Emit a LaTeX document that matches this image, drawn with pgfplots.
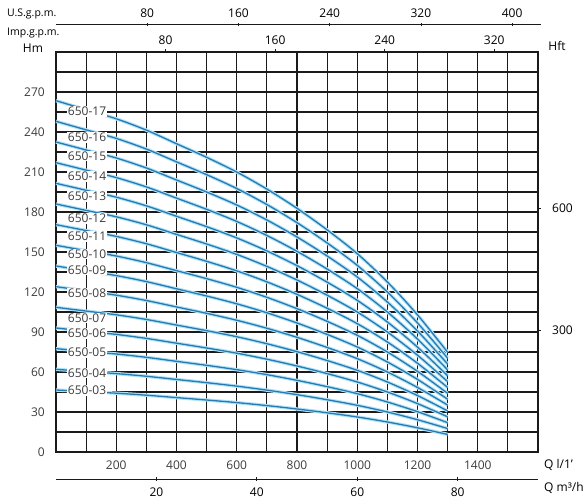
\documentclass[border=0pt]{standalone}
\usepackage{pgfplots}
\usepackage{pgfplotstable}
\pgfplotsset{compat=1.18}
\usepackage{fontspec}
\setmainfont{Open Sans}
\definecolor{txt}{HTML}{3C3C3C}
\definecolor{gridc}{HTML}{1A1A1A}
\definecolor{curve}{HTML}{2A7AB2}
\definecolor{halo}{HTML}{B0E4F8}

\pgfplotstableread{
Q n03 n04 n05 n06 n07 n08 n09 n10 n11 n12 n13 n14 n15 n16 n17
0 46.5 62.0 77.5 93.0 108.5 124.0 139.5 155.0 170.5 186.0 201.5 217.0 232.5 248.0 263.5
100 45.3 60.4 75.5 90.6 105.7 120.8 135.9 151.0 166.1 181.2 196.3 211.4 226.5 241.6 256.7
200 44.1 58.8 73.5 88.2 102.9 117.6 132.3 147.0 161.7 176.4 191.1 205.8 220.5 235.2 249.9
300 42.6 56.8 71.0 85.2 99.4 113.6 127.8 142.0 156.2 170.4 184.6 198.8 213.0 227.2 241.4
400 40.8 54.4 68.0 81.6 95.2 108.8 122.4 136.0 149.6 163.2 176.8 190.4 204.0 217.6 231.2
500 39.0 52.0 65.0 78.0 91.0 104.0 117.0 130.0 143.0 156.0 169.0 182.0 195.0 208.0 221.0
600 37.05 49.4 61.75 74.1 86.45 98.8 111.15 123.5 135.85 148.2 160.55 172.9 185.25 197.6 209.95
700 34.8 46.4 58.0 69.6 81.2 92.8 104.4 116.0 127.6 139.2 150.8 162.4 174.0 185.6 197.2
800 32.25 43.0 53.75 64.5 75.25 86.0 96.75 107.5 118.25 129.0 139.75 150.5 161.25 172.0 182.75
900 29.4 39.2 49.0 58.8 68.6 78.4 88.2 98.0 107.8 117.6 127.4 137.2 147.0 156.8 166.6
1000 26.25 35.0 43.75 52.5 61.25 70.0 78.75 87.5 96.25 105.0 113.75 122.5 131.25 140.0 148.75
1100 22.5 30.0 37.5 45.0 52.5 60.0 67.5 75.0 82.5 90.0 97.5 105.0 112.5 120.0 127.5
1200 18.15 24.2 30.25 36.3 42.35 48.4 54.45 60.5 66.55 72.6 78.65 84.7 90.75 96.8 102.85
1300 13.2 17.6 22.0 26.4 30.8 35.2 39.6 44.0 48.4 52.8 57.2 61.6 66.0 70.4 74.8
}\pumpdata

\begin{document}
\fontsize{12bp}{14bp}\selectfont
\begin{tikzpicture}
\useasboundingbox (-56bp,-49bp) rectangle (527bp,452bp);
\begin{axis}[
  at={(0,0)}, anchor=south west,
  scale only axis, width=482bp, height=400bp,
  xmin=0, xmax=1600, ymin=0, ymax=300,
  clip=false,
  xtick={200,400,...,1400},
  xticklabels={200,400,600,800,1000,1200,1400},
  minor xtick={0,100,...,1600},
  ytick={0,30,...,270},
  yticklabels={0,30,60,90,120,150,180,210,240,270},
  minor ytick={0,15,...,300},
  grid=both,
  major grid style={gridc, line width=1.2bp},
  minor grid style={gridc, line width=1.2bp},
  axis line style={gridc, line width=1.4bp},
  major tick length=0pt, minor tick length=0pt,
  tick label style={text=txt, font=\fontsize{12bp}{14bp}\selectfont},
  xticklabel style={anchor=center, yshift=-13bp},
  yticklabel style={anchor=east, xshift=-7bp},
  every node/.append style={text=txt},
]
\pgfplotsinvokeforeach{03,04,05,06,07,08,09,10,11,12,13,14,15,16,17}{
  \addplot[halo, line width=3.4bp, smooth] table[x=Q, y=n#1] {\pumpdata};
}
\pgfplotsinvokeforeach{03,04,05,06,07,08,09,10,11,12,13,14,15,16,17}{
  \addplot[curve, line width=1.3bp, smooth] table[x=Q, y=n#1] {\pumpdata};
}
% curve labels
\begin{scope}[every node/.style={fill=white, inner sep=0.8bp, text=txt, font=\fontsize{12bp}{14bp}\selectfont}]
\node at (axis cs:103,255.5) {650-17};
\node at (axis cs:103,236) {650-16};
\node at (axis cs:103,222) {650-15};
\node at (axis cs:103,206.5) {650-14};
\node at (axis cs:103,191.5) {650-13};
\node at (axis cs:103,175) {650-12};
\node at (axis cs:103,161.7) {650-11};
\node at (axis cs:103,148.5) {650-10};
\node at (axis cs:103,136.3) {650-09};
\node at (axis cs:103,119) {650-08};
\node at (axis cs:103,100.7) {650-07};
\node at (axis cs:103,89) {650-06};
\node at (axis cs:103,74.6) {650-05};
\node at (axis cs:103,59.3) {650-04};
\node at (axis cs:103,46) {650-03};
\end{scope}
% left / right titles
\node at ([xshift=-23bp,yshift=4bp]axis cs:0,300) {Hm};
\node at ([xshift=19bp,yshift=6bp]axis cs:1600,300) {Hft};
% Hft ticks
\draw[gridc, line width=0.8bp] (axis cs:1600,91.44) -- ++(3bp,0);
\draw[gridc, line width=0.8bp] (axis cs:1600,182.88) -- ++(3bp,0);
\node[anchor=west] at ([xshift=10bp]axis cs:1600,91.44) {300};
\node[anchor=west] at ([xshift=10bp]axis cs:1600,182.88) {600};
% Imp. g.p.m. scale
\node[anchor=west, font=\fontsize{10.5bp}{12bp}\selectfont] at ([xshift=-53bp,yshift=19bp]axis cs:0,300) {Imp.g.p.m.};
\draw[gridc, line width=0.8bp] (axis cs:363.7,300) -- ++(0,3bp);
\draw[gridc, line width=0.8bp] (axis cs:727.4,300) -- ++(0,3bp);
\draw[gridc, line width=0.8bp] (axis cs:1091.1,300) -- ++(0,3bp);
\draw[gridc, line width=0.8bp] (axis cs:1454.7,300) -- ++(0,3bp);
\node at ([yshift=12bp]axis cs:363.7,300) {80};
\node at ([yshift=12bp]axis cs:727.4,300) {160};
\node at ([yshift=12bp]axis cs:1091.1,300) {240};
\node at ([yshift=12bp]axis cs:1454.7,300) {320};
% U.S. g.p.m. scale
\node[anchor=west, font=\fontsize{10.5bp}{12bp}\selectfont] at ([xshift=-53bp,yshift=38bp]axis cs:0,300) {U.S.g.p.m.};
\draw[gridc, line width=1bp] ([yshift=27bp]axis cs:0,300) -- ([yshift=27bp,xshift=3bp]axis cs:1600,300);
\draw[gridc, line width=0.8bp] ([yshift=25.5bp]axis cs:302.8,300) -- ++(0,3.5bp);
\draw[gridc, line width=0.8bp] ([yshift=25.5bp]axis cs:605.7,300) -- ++(0,3.5bp);
\draw[gridc, line width=0.8bp] ([yshift=25.5bp]axis cs:908.5,300) -- ++(0,3.5bp);
\draw[gridc, line width=0.8bp] ([yshift=25.5bp]axis cs:1211.3,300) -- ++(0,3.5bp);
\draw[gridc, line width=0.8bp] ([yshift=25.5bp]axis cs:1514.2,300) -- ++(0,3.5bp);
\node at ([yshift=39bp]axis cs:302.8,300) {80};
\node at ([yshift=39bp]axis cs:605.7,300) {160};
\node at ([yshift=39bp]axis cs:908.5,300) {240};
\node at ([yshift=39bp]axis cs:1211.3,300) {320};
\node at ([yshift=39bp]axis cs:1514.2,300) {400};
% Q l/1' label
\node[anchor=west] at ([xshift=2bp,yshift=-13bp]axis cs:1600,0) {Q l/1'};
% m3/h scale
\draw[gridc, line width=1bp] ([yshift=-27bp]axis cs:0,0) -- ([yshift=-27bp]axis cs:1600,0);
\draw[gridc, line width=0.8bp] ([yshift=-25bp]axis cs:333.3,0) -- ++(0,-4bp);
\draw[gridc, line width=0.8bp] ([yshift=-25bp]axis cs:666.7,0) -- ++(0,-4bp);
\draw[gridc, line width=0.8bp] ([yshift=-25bp]axis cs:1000,0) -- ++(0,-4bp);
\draw[gridc, line width=0.8bp] ([yshift=-25bp]axis cs:1333.3,0) -- ++(0,-4bp);
\node at ([yshift=-40bp]axis cs:333.3,0) {20};
\node at ([yshift=-40bp]axis cs:666.7,0) {40};
\node at ([yshift=-40bp]axis cs:1000,0) {60};
\node at ([yshift=-40bp]axis cs:1333.3,0) {80};
\node[anchor=west] at ([xshift=2bp,yshift=-36bp]axis cs:1600,0) {Q m³/h};
\end{axis}
\end{tikzpicture}
\end{document}
